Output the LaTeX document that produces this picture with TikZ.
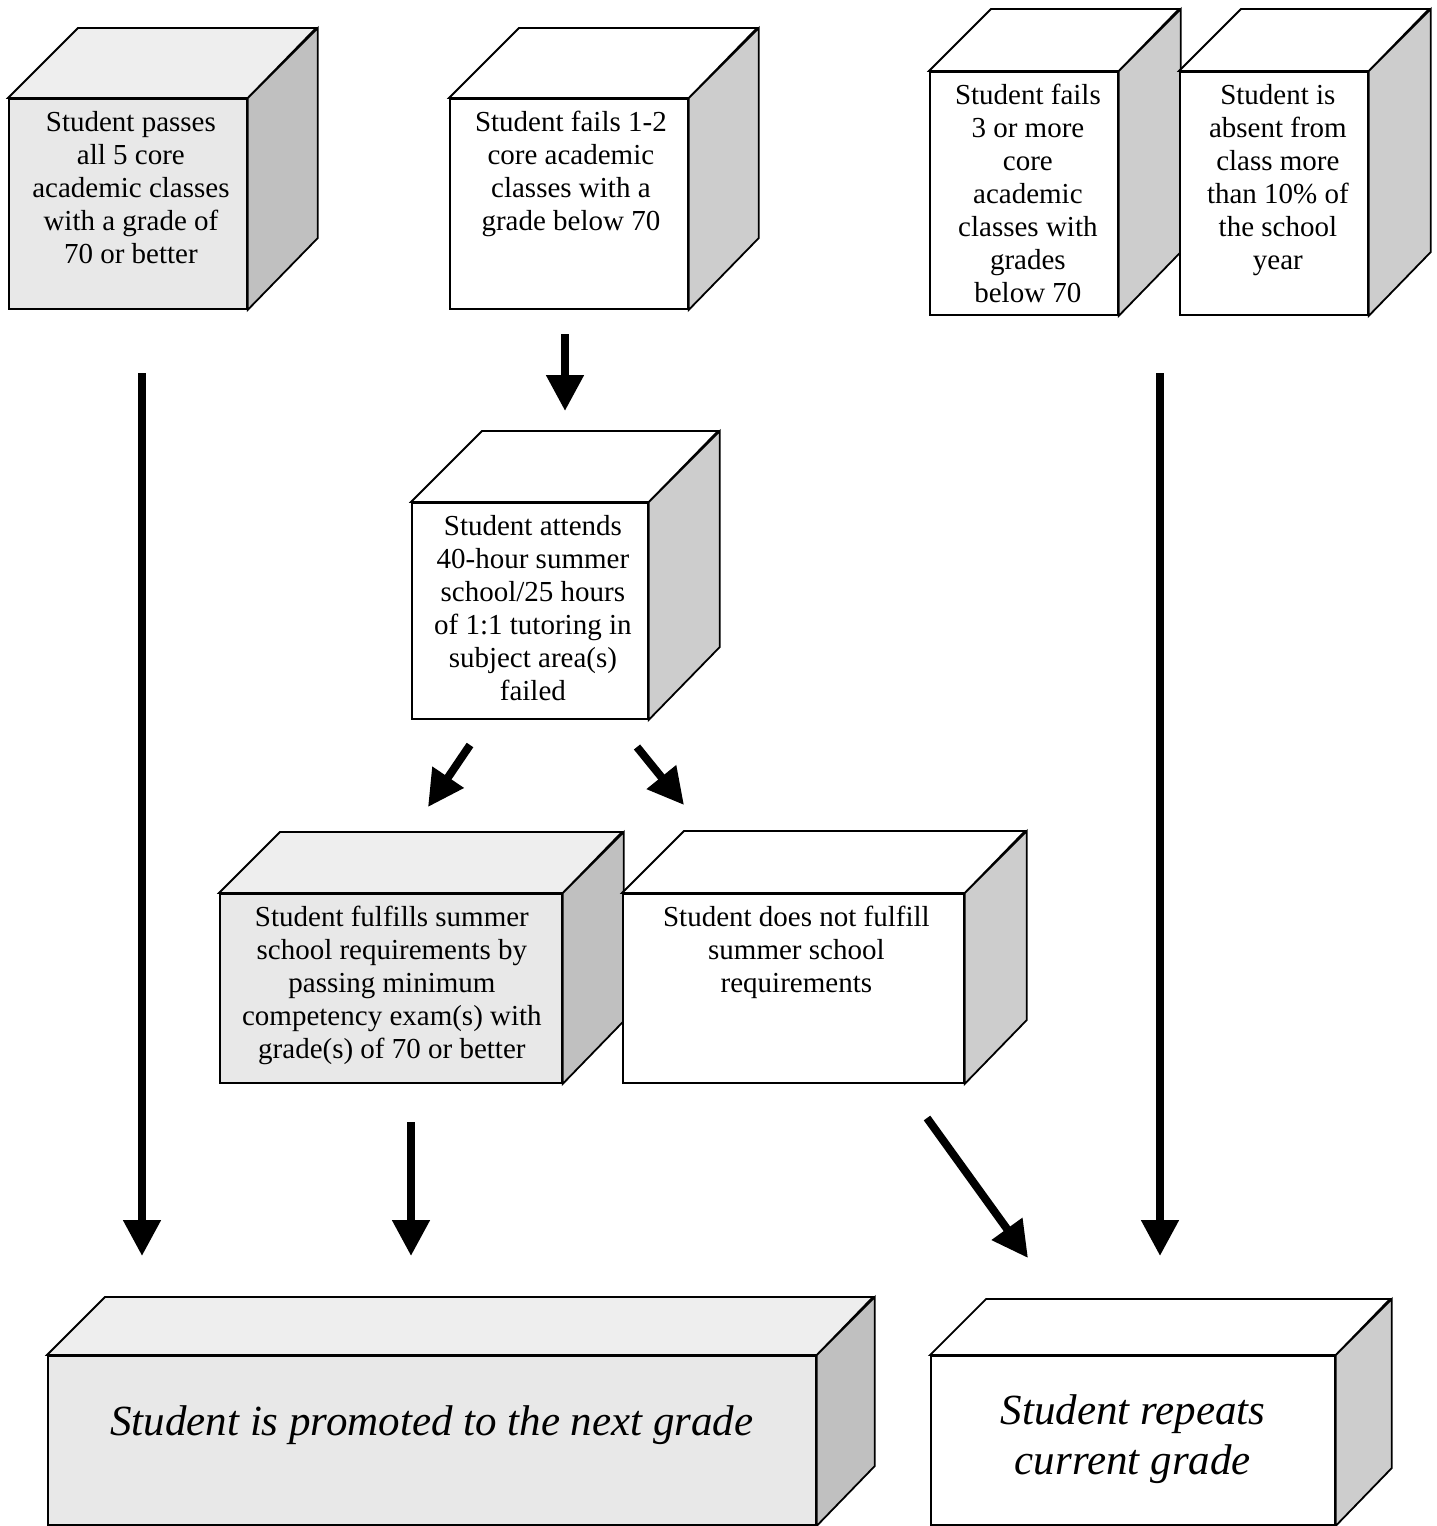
\documentclass[tikz,border=0pt]{standalone}
\usepackage{fontspec}
\setmainfont{Liberation Serif}
\usetikzlibrary{arrows.meta}
\definecolor{frontgray}{HTML}{E8E8E8}
\definecolor{topgray}{HTML}{EEEEEE}
\definecolor{sidegray}{HTML}{C0C0C0}
\definecolor{sidewhite}{HTML}{CDCDCD}
\tikzset{
  face/.style={draw=black, line width=1.8pt, line join=miter},
  txt/.style={inner sep=0pt, align=center, font=\fontsize{29}{33}\selectfont},
  bigtxt/.style={inner sep=0pt, align=center, font=\fontsize{43}{50}\selectfont\itshape},
  flowarrow/.style={line width=8pt, -{Triangle[length=36pt,width=36pt]}},
}
% #1 name, #2 x1, #3 y1 (top-left of front), #4 width, #5 height, #6 depth, #7 front, #8 top, #9 side
\newcommand\mycube[9]{%
  \node[face, fill=#7, minimum width=#4pt, minimum height=#5pt, anchor=north west, inner sep=0pt] (#1) at (#2,#3) {};
  \draw[face, fill=#8] (#1.north west) -- ++(#6,-#6) -- ++(#4,0) -- (#1.north east) -- cycle;
  \draw[face, fill=#9] (#1.north east) -- ++(#6,-#6) -- ++(0,#5) -- (#1.south east) -- cycle;
}
\begin{document}
\begin{tikzpicture}[x=1pt, y=-1pt]
\useasboundingbox[fill=white] (0,0) rectangle (1437,1526);

% top row
\mycube{b1}{8}{98}{238}{210}{70}{frontgray}{topgray}{sidegray}
\node[txt, anchor=north] (t1) at ([xshift=3pt]b1.north |- 0,111) {Student passes\\all 5 core\\academic classes\\with a grade of\\70 or better};

\mycube{b2}{449}{98}{238}{210}{70}{white}{white}{sidewhite}
\node[txt, anchor=north] (t2) at ([xshift=2pt]b2.north |- 0,111) {Student fails 1-2\\core academic\\classes with a\\grade below 70};

\mycube{b3}{929}{71}{188}{243}{62}{white}{white}{sidewhite}
\node[txt, anchor=north] (t3) at ([xshift=4pt]b3.north |- 0,84) {Student fails\\3 or more\\core\\academic\\classes with\\grades\\below 70};

\mycube{b4}{1179}{71}{188}{243}{62}{white}{white}{sidewhite}
\node[txt, anchor=north] (t4) at ([xshift=4pt]b4.north |- 0,84) {Student is\\absent from\\class more\\than 10\% of\\the school\\year};

% middle
\mycube{b5}{411}{502}{236}{216}{71}{white}{white}{sidewhite}
\node[txt, anchor=north] (t5) at ([xshift=3pt]b5.north |- 0,515) {Student attends\\40-hour summer\\school/25 hours\\of 1:1 tutoring in\\subject area(s)\\failed};

\mycube{b6}{219}{893}{342}{189}{61}{frontgray}{topgray}{sidegray}
\node[txt, anchor=north] (t6) at ([xshift=1pt]b6.north |- 0,906) {Student fulfills summer\\school requirements by\\passing minimum\\competency exam(s) with\\grade(s) of 70 or better};

\mycube{b7}{622}{893}{341}{189}{62}{white}{white}{sidewhite}
\node[txt, anchor=north] (t7) at ([xshift=3pt]b7.north |- 0,906) {Student does not fulfill\\summer school\\requirements};

% bottom
\mycube{b8}{47}{1355}{768}{169}{58}{frontgray}{topgray}{sidegray}
\node[bigtxt] (t8) at (b8.center |- 0,1425) {Student is promoted to the next grade};

\mycube{b9}{930}{1355}{404}{169}{56}{white}{white}{sidewhite}
\node[bigtxt] (t9) at (b9.center |- 0,1439) {Student repeats\\current grade};

% arrow end points
\coordinate (a1s) at (142,373);  \coordinate (a1e) at (142,1256);
\coordinate (a2s) at (565,334);  \coordinate (a2e) at (565,411);
\coordinate (a3s) at (470,745);  \coordinate (a3e) at (428,807);
\coordinate (a4s) at (637,747);  \coordinate (a4e) at (684,805);
\coordinate (a5s) at (411,1122); \coordinate (a5e) at (411,1256);
\coordinate (a6s) at (927,1118); \coordinate (a6e) at (1028,1258);
\coordinate (a7s) at (1160,373); \coordinate (a7e) at (1160,1256);

\draw[flowarrow] (a1s) -- (a1e);
\draw[flowarrow] (a2s) -- (a2e);
\draw[flowarrow] (a3s) -- (a3e);
\draw[flowarrow] (a4s) -- (a4e);
\draw[flowarrow] (a5s) -- (a5e);
\draw[flowarrow] (a6s) -- (a6e);
\draw[flowarrow] (a7s) -- (a7e);
\end{tikzpicture}
\end{document}
